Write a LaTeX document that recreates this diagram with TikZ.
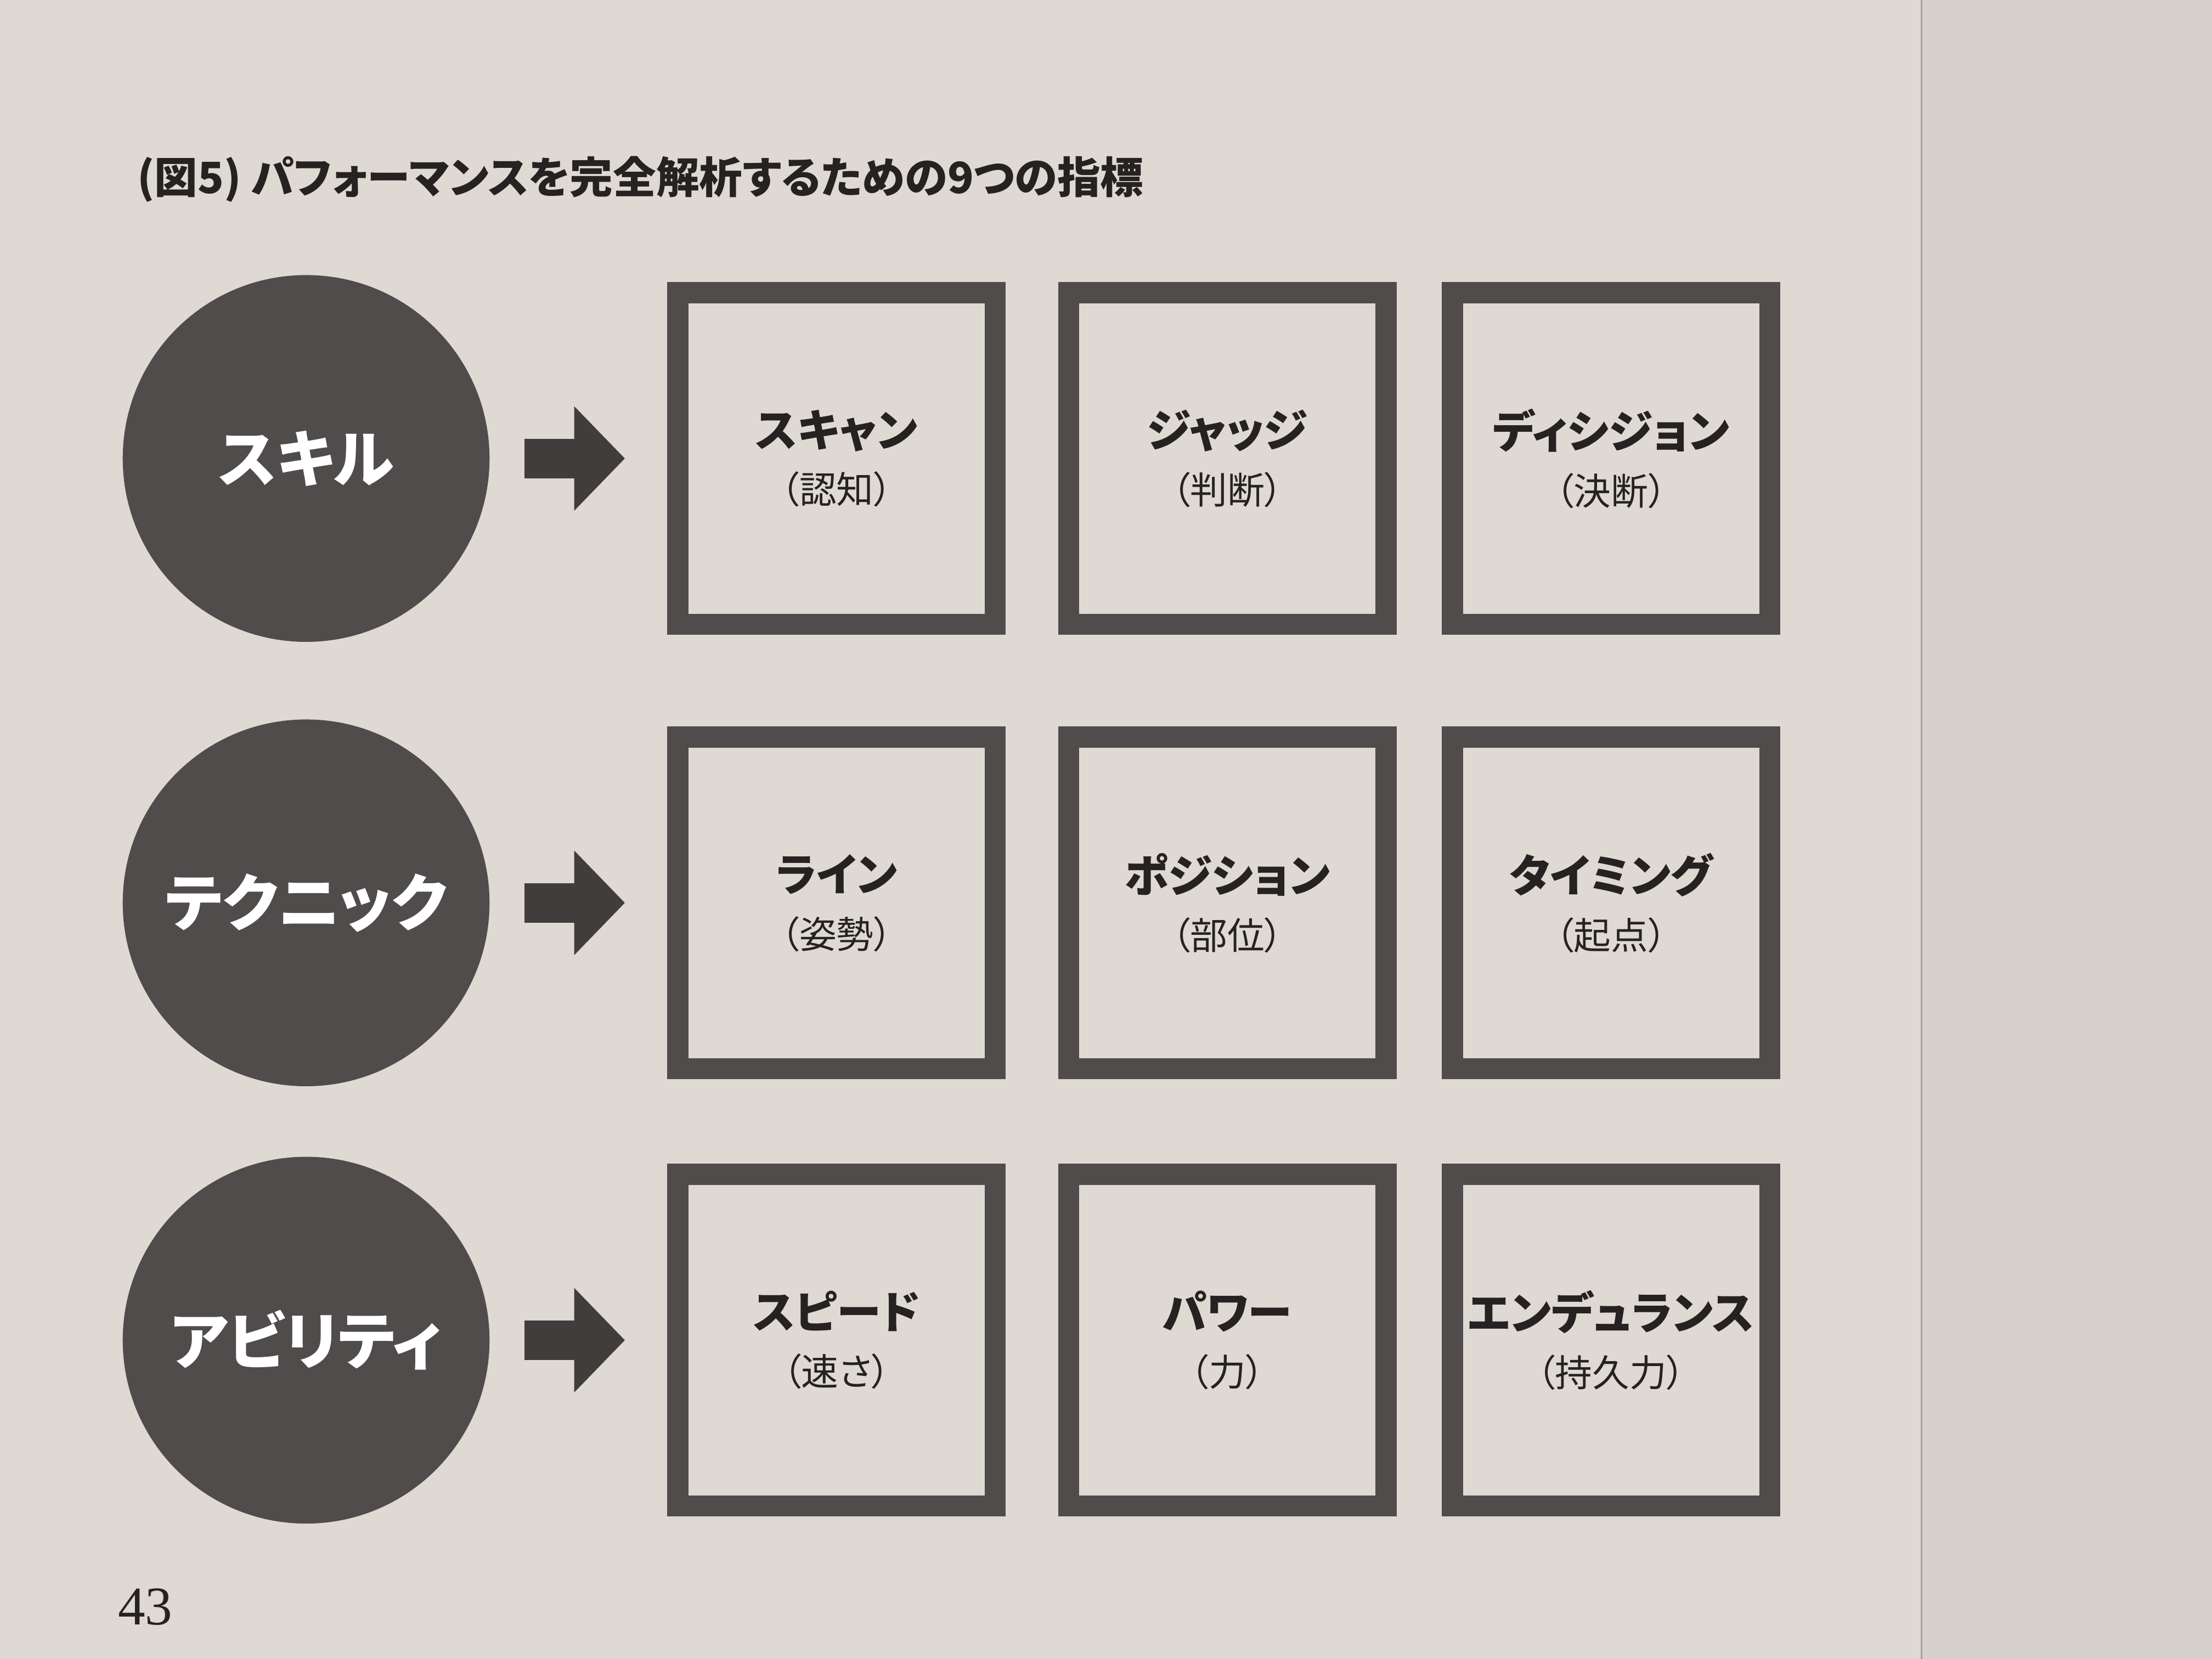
\documentclass[tikz,border=0pt]{standalone}
\usepackage{fontspec}
\usepackage{xcolor}
\newfontfamily\jp[RawFeature=+palt]{Noto Sans CJK JP}
\newfontfamily\pagefont{Liberation Serif}
\usetikzlibrary{arrows.meta}

\definecolor{paper}{RGB}{222,218,211}
\definecolor{sheet}{RGB}{214,210,203}
\definecolor{ink}{RGB}{80,76,75}
\definecolor{textink}{RGB}{38,34,33}

\tikzset{
  groupdot/.style={circle,fill=ink,minimum size=2.6cm,inner sep=0pt,
    text=white,font=\jp\bfseries\fontsize{12.5}{14}\selectfont},
  itembox/.style={rectangle,draw=ink,line width=1.5mm,fill=paper,
    minimum width=2.25cm,minimum height=2.35cm,inner sep=0pt,
    align=center,text=textink,font=\jp\bfseries\fontsize{9}{11}\selectfont},
  bigarrow/.style={draw=ink!80!black,line width=2.8mm,
    -{Triangle[length=3.6mm,width=7.2mm]},
    shorten <=2.4mm,shorten >=3mm},
}
\newcommand{\subtext}[1]{\\[0.5pt]{\mdseries\fontsize{7.5}{9}\selectfont （#1）}}

\begin{document}
\begin{tikzpicture}
        \useasboundingbox (0,0) rectangle (15.68,-11.76);
        % Page
        \fill[paper] (0,0) rectangle (13.62,-11.76);
        \fill[sheet] (13.62,0) rectangle (15.68,-11.76);
        \draw[ink!40!paper,line width=0.4pt] (13.62,0) -- (13.62,-11.76);
        % Title
        \node[anchor=west,text=textink,font=\jp\bfseries\fontsize{8.7}{10}\selectfont] (title) at (0.85,-1.27) {(図5) パフォーマンスを完全解析するための9つの指標};
        % Skill
        \node[groupdot] (skill) at (2.17,-3.25) {スキル};
        \node[itembox] (scan) at (5.93,-3.25) {スキャン\subtext{認知}};
        \node[itembox] (judge) at (8.70,-3.25) {ジャッジ\subtext{判断}};
        \node[itembox] (decide) at (11.42,-3.25) {ディシジョン\subtext{決断}};
        \draw[bigarrow] (skill) -- (scan);
        % Technique
        \node[groupdot] (technique) at (2.17,-6.40) {テクニック};
        \node[itembox] (line) at (5.93,-6.40) {ライン\subtext{姿勢}};
        \node[itembox] (position) at (8.70,-6.40) {ポジション\subtext{部位}};
        \node[itembox] (timing) at (11.42,-6.40) {タイミング\subtext{起点}};
        \draw[bigarrow] (technique) -- (line);
        % Ability
        \node[groupdot] (ability) at (2.17,-9.50) {アビリティ};
        \node[itembox] (speed) at (5.93,-9.50) {スピード\subtext{速さ}};
        \node[itembox] (power) at (8.70,-9.50) {パワー\subtext{力}};
        \node[itembox] (endurance) at (11.42,-9.50) {エンデュランス\subtext{持久力}};
        \draw[bigarrow] (ability) -- (speed);
        % Page number
        \node[text=textink,font=\pagefont\fontsize{11}{13}\selectfont] (pagenum) at (1.03,-11.39) {43};
\end{tikzpicture}
\end{document}
